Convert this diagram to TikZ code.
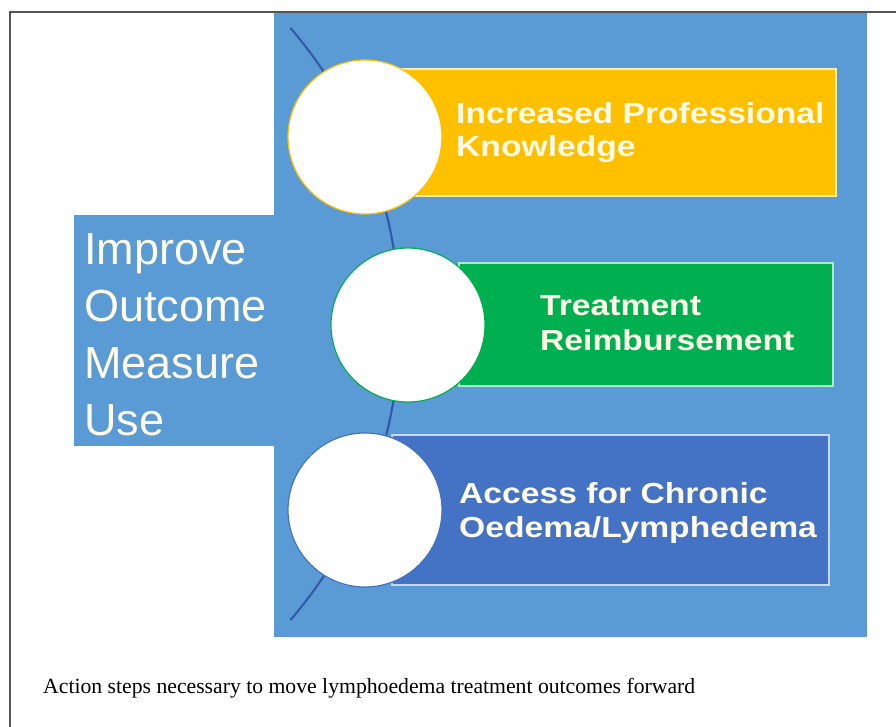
\documentclass[tikz,border=0pt]{standalone}
\usepackage{fontspec}
\setmainfont{Liberation Serif}
\newfontfamily\boxfont[FakeStretch=1.16]{Liberation Sans Bold}
\newfontfamily\leftfont{Liberation Sans}
\definecolor{bgblue}{HTML}{5B9BD5}
\definecolor{arcblue}{HTML}{3358A8}
\definecolor{ylw}{HTML}{FFC000}
\definecolor{grn}{HTML}{00B050}
\definecolor{dblue}{HTML}{4472C4}
\definecolor{cream}{HTML}{FFFBE8}
\definecolor{framegray}{HTML}{555555}
\tikzset{
  bartext/.style={anchor=base west, inner sep=0pt, text=cream, font=\boxfont\fontsize{29}{33}\selectfont},
  lefttext/.style={anchor=base west, inner sep=0pt, text=cream, font=\leftfont\fontsize{45}{54}\selectfont},
  bar/.style={draw=#1!30!white, line width=1.6pt, fill=#1, inner sep=0pt},
  disc/.style={circle, fill=white, draw=#1, line width=1.2pt, minimum size=154pt, inner sep=0pt},
}
\begin{document}
\begin{tikzpicture}[x=1pt,y=-1pt]
\useasboundingbox (0,0) rectangle (896,727);
% frame
\draw[framegray, line width=1.3pt] (10,727) -- (10,12) -- (896,12);
% blue background
\fill[bgblue] (274,13) rectangle (867,637);
\fill[bgblue] (74,215) rectangle (275,446);
% arc
\draw[arcblue, line width=2.1pt] (-55,324) ++(-40.6:455) arc[start angle=-40.6, end angle=40.6, radius=455];
% bars
\node[bar=ylw, minimum width=437pt, minimum height=127pt, anchor=north east] (b1) at (837,68) {};
\node[bar=grn, minimum width=374pt, minimum height=123pt, anchor=north east] (b2) at (834,262) {};
\node[bar=dblue, minimum width=437pt, minimum height=150pt, anchor=north east] (b3) at (830,434) {};
% discs
\node[disc=ylw] (c1) at (365,137) {};
\node[disc=grn] (c2) at (408,325) {};
\node[disc=dblue] (c3) at (365,510) {};
% bar texts
\node[bartext] (t1a) at (456,124) {Increased Professional};
\node[bartext] (t1b) at (456,157) {Knowledge};
\node[bartext] (t2a) at (540,315) {Treatment};
\node[bartext] (t2b) at (540,350) {Reimbursement};
\node[bartext] (t3a) at (459,503) {Access for Chronic};
\node[bartext] (t3b) at (459,537) {Oedema/Lymphedema};
% left text
\node[lefttext] (l1) at (84,264) {Improve};
\node[lefttext] (l2) at (84,321) {Outcome};
\node[lefttext] (l3) at (84,378) {Measure};
\node[lefttext] (l4) at (84,435) {Use};
% caption
\node[anchor=base west, inner sep=0pt, font=\fontsize{21.7}{26}\selectfont] (cap) at (43,693) {Action steps necessary to move lymphoedema treatment outcomes forward};
\end{tikzpicture}
\end{document}
